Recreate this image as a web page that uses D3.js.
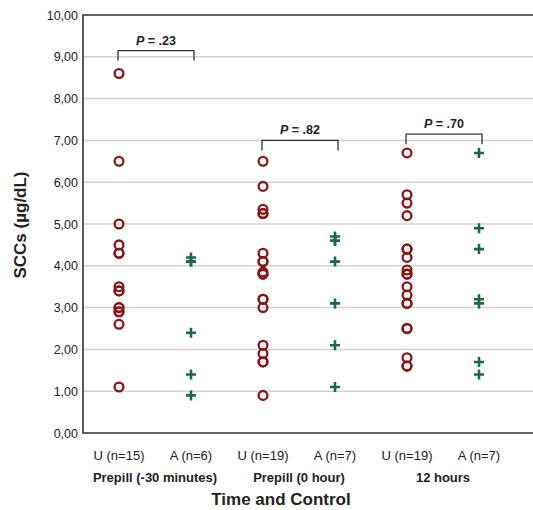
<!DOCTYPE html>
<html lang="en">

<head>
  <meta charset="utf-8">
  <title>SCCs by Time and Control</title>
  <script src="https://d3js.org/d3.v7.min.js"></script>
  <style>
    body { margin: 0; background: #fff; }
    text { font-family: "Liberation Sans", Arial, sans-serif; fill: #222; }
  </style>
</head>

<body>
  <script>
    // categories on the x axis and the time groups under them
    var categories = ['U (n=15)', 'A (n=6)', 'U (n=19)', 'A (n=7)', 'U (n=19)', 'A (n=7)'];
    var groups = ['Prepill (-30 minutes)', 'Prepill (0 hour)', '12 hours'];

    // values (µg/dL), overlapping points repeated
    var uPre30 = [8.6, 6.5, 5.0, 4.5, 4.3, 4.3, 3.5, 3.4, 3.4, 3.0, 3.0, 2.9, 2.9, 2.6, 1.1];
    var aPre30 = [4.2, 4.1, 4.1, 2.4, 1.4, 0.9];
    var uPre0 = [6.5, 5.9, 5.35, 5.25, 5.25, 4.3, 4.1, 4.1, 3.85, 3.8, 3.8, 3.2, 3.2, 3.0, 2.1, 1.9, 1.7, 1.7, 0.9];
    var aPre0 = [4.7, 4.6, 4.6, 4.1, 3.1, 2.1, 1.1];
    var u12 = [6.7, 5.7, 5.5, 5.2, 4.4, 4.4, 4.2, 3.9, 3.8, 3.8, 3.5, 3.3, 3.1, 3.1, 2.5, 2.5, 1.8, 1.6, 1.6];
    var a12 = [6.7, 4.9, 4.4, 3.2, 3.1, 1.7, 1.4];
    var series = [uPre30, aPre30, uPre0, aPre0, u12, a12];

    // comparison brackets: p-values and the level of each bracket
    var pValues = ['.23', '.82', '.70'];
    var bracketLevels = [9.15, 7.0, 7.15];

    var yTicks = [0, 1, 2, 3, 4, 5, 6, 7, 8, 9, 10];

    var w = 533, h = 510;
    var margin = { top: 15, right: -10, bottom: 77, left: 83 };

    var svg = d3.select('body').append('svg')
      .attr('width', w)
      .attr('height', h);

    var y = d3.scaleLinear().domain([0, 10]).range([h - margin.bottom, margin.top]);
    var x = d3.scaleBand().domain(d3.range(categories.length)).range([margin.left, 515]);
    var cx = function (i) { return x(i) + x.bandwidth() / 2; };
    var fmt = function (v) { return d3.format('.2f')(v).replace('.', ','); };

    // grid lines
    svg.append('g').selectAll('line')
      .data(yTicks.filter(function (t) { return t > 0 && t < 10; }))
      .enter().append('line')
      .attr('x1', margin.left).attr('x2', w - margin.right)
      .attr('y1', function (d) { return y(d); }).attr('y2', function (d) { return y(d); })
      .attr('stroke', '#d4d4d4').attr('stroke-width', 1.5);

    // frame
    svg.append('path')
      .attr('d', 'M' + (w - margin.right) + ',' + y(10) + 'H' + margin.left + 'V' + y(0) + 'H' + (w - margin.right))
      .attr('fill', 'none').attr('stroke', '#333').attr('stroke-width', 1.6);

    // y axis labels
    svg.append('g').selectAll('text')
      .data(yTicks)
      .enter().append('text')
      .attr('x', margin.left - 5)
      .attr('y', function (d) { return y(d) + 4.5; })
      .attr('text-anchor', 'end')
      .style('font-size', '12.5px')
      .text(fmt);

    // x category labels
    svg.append('g').selectAll('text')
      .data(categories)
      .enter().append('text')
      .attr('x', function (d, i) { return cx(i); })
      .attr('y', 460)
      .attr('text-anchor', 'middle')
      .style('font-size', '13px')
      .text(function (d) { return d; });

    // group labels
    svg.append('g').selectAll('text')
      .data(groups)
      .enter().append('text')
      .attr('x', function (d, i) { return (cx(2 * i) + cx(2 * i + 1)) / 2; })
      .attr('y', 482)
      .attr('text-anchor', 'middle')
      .style('font-size', '13px').style('font-weight', 'bold')
      .text(function (d) { return d; });

    // axis titles
    svg.append('text')
      .attr('x', 281).attr('y', 505)
      .attr('text-anchor', 'middle')
      .style('font-size', '17px').style('font-weight', 'bold')
      .text('Time and Control');

    svg.append('text')
      .attr('transform', 'translate(26,' + 225 + ') rotate(-90)')
      .attr('text-anchor', 'middle')
      .style('font-size', '17px').style('font-weight', 'bold')
      .text('SCCs (µg/dL)');

    // points: U columns are circles, A columns are plus signs
    series.forEach(function (vals, i) {
      var g = svg.append('g');
      if (i % 2 === 0) {
        g.selectAll('circle').data(vals).enter().append('circle')
          .attr('cx', cx(i)).attr('cy', function (d) { return y(d); })
          .attr('r', 4.4)
          .attr('fill', 'none').attr('stroke', '#8a1414').attr('stroke-width', 2.3);
      } else {
        g.selectAll('path').data(vals).enter().append('path')
          .attr('d', function (d) {
            var px = cx(i), py = y(d), s = 5;
            return 'M' + (px - s) + ',' + py + 'H' + (px + s) + 'M' + px + ',' + (py - s) + 'V' + (py + s);
          })
          .attr('stroke', '#1b6a3c').attr('stroke-width', 2.6);
      }
    });

    // p-value brackets
    pValues.forEach(function (p, i) {
      var x1 = cx(2 * i) - 1, x2 = cx(2 * i + 1) + 3, by = y(bracketLevels[i]);
      svg.append('path')
        .attr('d', 'M' + x1 + ',' + (by + 10) + 'V' + by + 'H' + x2 + 'V' + (by + 10))
        .attr('fill', 'none').attr('stroke', '#333').attr('stroke-width', 1.3);
      var t = svg.append('text')
        .attr('x', (x1 + x2) / 2).attr('y', by - 6)
        .attr('text-anchor', 'middle')
        .style('font-size', '12.5px').style('font-weight', 'bold');
      t.append('tspan').style('font-style', 'italic').text('P');
      t.append('tspan').text(' = ' + p);
    });
  </script>
</body>

</html>
